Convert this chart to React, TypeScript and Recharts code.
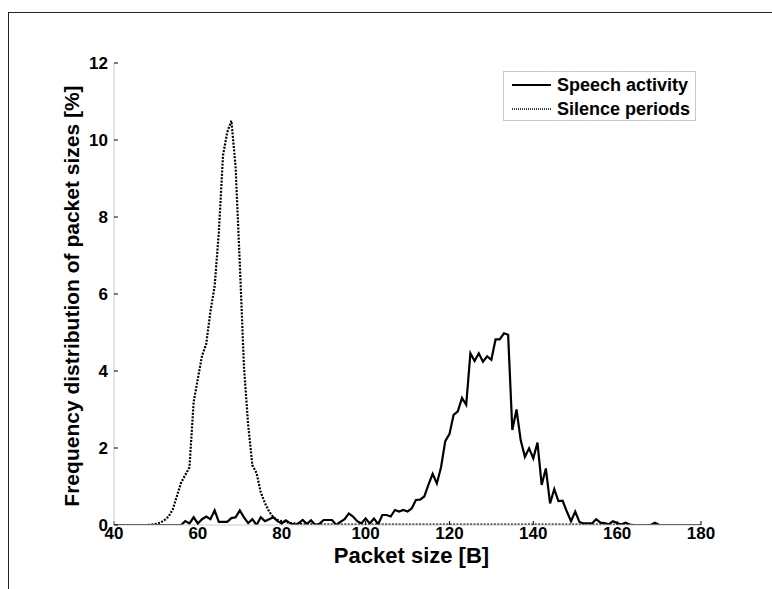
import React from 'react';
import { LineChart, Line, XAxis, YAxis, Legend } from 'recharts';

const PACKET_SIZES = [
  40, 41, 42, 43, 44, 45, 46, 47, 48, 49,
  50, 51, 52, 53, 54, 55, 56, 57, 58, 59,
  60, 61, 62, 63, 64, 65, 66, 67, 68, 69,
  70, 71, 72, 73, 74, 75, 76, 77, 78, 79,
  80, 81, 82, 83, 84, 85, 86, 87, 88, 89,
  90, 91, 92, 93, 94, 95, 96, 97, 98, 99,
  100, 101, 102, 103, 104, 105, 106, 107, 108, 109,
  110, 111, 112, 113, 114, 115, 116, 117, 118, 119,
  120, 121, 122, 123, 124, 125, 126, 127, 128, 129,
  130, 131, 132, 133, 134, 135, 136, 137, 138, 139,
  140, 141, 142, 143, 144, 145, 146, 147, 148, 149,
  150, 151, 152, 153, 154, 155, 156, 157, 158, 159,
  160, 161, 162, 163, 164, 165, 166, 167, 168, 169,
  170, 171, 172, 173, 174, 175, 176, 177, 178, 179,
  180,
];

const SPEECH = [
  0, 0, 0, 0, 0, 0, 0, 0, 0, 0,
  0, 0, 0, 0, 0, 0, 0, 0.1, 0.04, 0.2,
  0.04, 0.15, 0.22, 0.15, 0.38, 0.08, 0.08, 0.08, 0.18, 0.2,
  0.38, 0.2, 0.05, 0.15, 0, 0.2, 0.1, 0.15, 0.2, 0.1,
  0.04, 0.12, 0.05, 0, 0.04, 0.13, 0.03, 0.12, 0, 0.03,
  0.13, 0.13, 0.13, 0, 0.08, 0.15, 0.3, 0.22, 0.1, 0.04,
  0.17, 0.04, 0.17, 0.02, 0.26, 0.26, 0.22, 0.39, 0.35, 0.39,
  0.35, 0.43, 0.65, 0.66, 0.74, 1.05, 1.33, 1.08, 1.5, 2.18,
  2.36, 2.86, 2.95, 3.3, 3.12, 4.46, 4.26, 4.46, 4.24, 4.38,
  4.29, 4.82, 4.82, 4.98, 4.94, 2.47, 3.0, 2.2, 1.77, 1.99,
  1.73, 2.14, 1.04, 1.47, 0.56, 0.93, 0.62, 0.63, 0.35, 0.1,
  0.35, 0.08, 0.04, 0.04, 0.04, 0.15, 0.06, 0.05, 0.02, 0.1,
  0.05, 0.01, 0.06, 0.01, 0, 0, 0, 0, 0, 0.06,
  0, 0, 0, 0, 0, 0, 0, 0, 0, 0,
  0,
];

const SILENCE = [
  0, 0, 0, 0, 0, 0, 0, 0, 0, 0.01,
  0.03, 0.06, 0.12, 0.22, 0.4, 0.75, 1.1, 1.3, 1.5, 3.2,
  3.8, 4.4, 4.7, 5.55, 6.2, 7.6, 9.6, 10.2, 10.5, 9.3,
  6.8, 4.1, 2.6, 1.55, 1.35, 0.85, 0.57, 0.35, 0.2, 0.13,
  0.1, 0.08, 0.05, 0.04, 0.03, 0.02, 0.02, 0.02, 0.02, 0.02,
  0.01, 0.01, 0.01, 0.01, 0.01, 0.01, 0.01, 0.01, 0.01, 0.01,
  0.01, 0.01, 0.01, 0.01, 0.01, 0.01, 0.01, 0.01, 0.01, 0.01,
  0.01, 0.01, 0.01, 0.01, 0.01, 0.01, 0.01, 0.01, 0.01, 0.01,
  0.01, 0.01, 0.01, 0.01, 0.01, 0.01, 0.01, 0.01, 0.01, 0.01,
  0.01, 0.01, 0.01, 0.01, 0.01, 0.01, 0.01, 0.01, 0.01, 0.01,
  0.01, 0.01, 0.01, 0.01, 0.01, 0.01, 0.01, 0.01, 0.01, 0.01,
  0.01, 0.01, 0.01, 0.01, 0.01, 0.01, 0.01, 0.01, 0.01, 0.01,
  0, 0, 0, 0, 0, 0, 0, 0, 0, 0,
  0, 0, 0, 0, 0, 0, 0, 0, 0, 0,
  0,
];

const X_TICKS = [40, 60, 80, 100, 120, 140, 160, 180];
const Y_TICKS = [0, 2, 4, 6, 8, 10, 12];
const SERIES_NAMES = ['Speech activity', 'Silence periods'];

const data = PACKET_SIZES.map((x, i) => ({ x, speech: SPEECH[i], silence: SILENCE[i] }));

const FONT = '"Liberation Sans", Arial, Helvetica, sans-serif';
const AXIS_GRAY = '#c8c8c8';

const renderLegend = () => (
  <div
    style={{
      border: `1px solid ${AXIS_GRAY}`,
      background: '#fff',
      width: 193,
      height: 50,
      boxSizing: 'border-box',
      fontFamily: FONT,
      fontWeight: 'bold',
      fontSize: 18,
      lineHeight: '20px',
      color: '#000',
      paddingTop: 1,
    }}
  >
    {SERIES_NAMES.map((name, i) => (
      <div key={name} style={{ display: 'flex', alignItems: 'center', height: 24 }}>
        <svg width={52} height={10} style={{ flex: 'none' }}>
          {i === 0 ? (
            <line x1={8} y1={5} x2={47} y2={5} stroke="#000" strokeWidth={2} />
          ) : (
            <line x1={8} y1={5} x2={47} y2={5} stroke="#000" strokeWidth={1.3} strokeDasharray="1 1" />
          )}
        </svg>
        <span style={{ marginLeft: 1, whiteSpace: 'nowrap' }}>{name}</span>
      </div>
    ))}
  </div>
);

const YLabel = (props: any) => {
  const vb = props.viewBox || { x: 0, y: 63, width: 114, height: 462 };
  const cx = 79;
  const cy = vb.y + vb.height / 2 + 2;
  return (
    <text
      x={cx}
      y={cy}
      transform={`rotate(-90, ${cx}, ${cy})`}
      textAnchor="middle"
      fontFamily={FONT}
      fontWeight="bold"
      fontSize={21}
      fill="#000"
    >
      Frequency distribution of packet sizes [%]
    </text>
  );
};

const XLabel = (props: any) => {
  const vb = props.viewBox || { x: 114, y: 525, width: 587, height: 64 };
  const cx = vb.x + vb.width / 2 + 4;
  const cy = 563;
  return (
    <text x={cx} y={cy} textAnchor="middle" fontFamily={FONT} fontWeight="bold" fontSize={22} fill="#000">
      Packet size [B]
    </text>
  );
};

export default function App() {
  const tickStyle = { fontFamily: FONT, fontWeight: 'bold', fontSize: 17, fill: '#000' } as any;
  return (
    <div style={{ position: 'absolute', left: 0, top: 0, width: 772, height: 589, background: '#fff' }}>
      <div
        style={{
          position: 'absolute',
          left: 8,
          top: 12,
          width: 764,
          height: 577,
          borderTop: '1.5px solid #222',
          borderLeft: '1.5px solid #222',
          boxSizing: 'border-box',
        }}
      />
      <div style={{ position: 'absolute', left: 0, top: 0 }}>
        <LineChart width={772} height={589} data={data} margin={{ top: 63, right: 71, left: 0, bottom: 0 }}>
          <XAxis
            dataKey="x"
            type="number"
            domain={[40, 180]}
            ticks={X_TICKS}
            height={64}
            tickSize={-4}
            tickMargin={6}
            axisLine={{ stroke: AXIS_GRAY }}
            tickLine={{ stroke: '#000' }}
            tick={tickStyle}
            label={<XLabel />}
            allowDataOverflow
          />
          <XAxis
            xAxisId="top"
            orientation="top"
            dataKey="x"
            type="number"
            domain={[40, 180]}
            ticks={X_TICKS}
            height={0}
            tickSize={-4}
            axisLine={{ stroke: AXIS_GRAY }}
            tickLine={{ stroke: '#000' }}
            tick={false}
          />
          <YAxis
            type="number"
            domain={[0, 12]}
            ticks={Y_TICKS}
            width={114}
            tickSize={-4}
            tickMargin={10}
            axisLine={{ stroke: AXIS_GRAY }}
            tickLine={{ stroke: '#000' }}
            tick={tickStyle}
            label={<YLabel />}
            allowDataOverflow
          />
          <YAxis
            yAxisId="right"
            orientation="right"
            type="number"
            domain={[0, 12]}
            ticks={Y_TICKS}
            width={0}
            tickSize={-4}
            axisLine={{ stroke: AXIS_GRAY }}
            tickLine={{ stroke: '#000' }}
            tick={false}
          />
          <Legend
            layout="vertical"
            verticalAlign="middle"
            align="center"
            content={renderLegend}
            wrapperStyle={{ position: 'absolute', left: 503, top: 71, right: 'auto', bottom: 'auto', width: 193, height: 50 }}
          />
          <Line
            name={SERIES_NAMES[1]}
            type="linear"
            dataKey="silence"
            stroke="#000"
            strokeWidth={2.2}
            strokeDasharray="2 1.4"
            dot={false}
            isAnimationActive={false}
          />
          <Line
            name={SERIES_NAMES[0]}
            type="linear"
            dataKey="speech"
            stroke="#000"
            strokeWidth={2.2}
            strokeLinejoin="miter"
            dot={false}
            isAnimationActive={false}
          />
        </LineChart>
      </div>
    </div>
  );
}
